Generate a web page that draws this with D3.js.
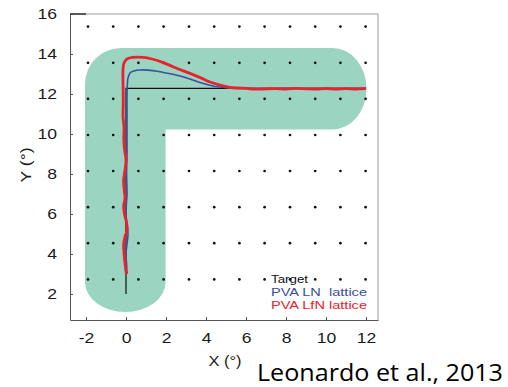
<!DOCTYPE html>
<html><head><meta charset="utf-8">
<script src="https://cdn.jsdelivr.net/npm/d3@7"></script>
<style>html,body{margin:0;padding:0;background:#fff;} text{font-family:"Liberation Sans",Arial,sans-serif;}</style>
</head><body>
<svg id="c" width="508" height="387"></svg>
<script>
const xTicks = [-2, 0, 2, 4, 6, 8, 10, 12];
const yTicks = [2, 4, 6, 8, 10, 12, 14, 16];
const dotX = [-1.9, -0.64, 0.62, 1.88, 3.15, 4.41, 5.67, 6.93, 8.2, 9.46, 10.72, 11.98];
const dotY = [2.73, 4.54, 6.34, 8.15, 9.95, 11.76, 13.56, 15.37];
const targetX = [0, 0, 12];
const targetY = [2, 12.28, 12.28];
const lnX = [0.05,0.03,0,0.05,0.1,0.05,0,0.02,0.05,0.03,0.05,0.05,0.05,0.05,0.07,0.1,0.2,0.4,0.7,1.35,2,2.7,3.2,3.7,4.35,4.7,5.2,6,7,8,9,10,11,12];
const lnY = [3.0,3.5,4,4.5,5,5.5,6,6.5,7,8,9,10,11,12,12.5,12.8,13.05,13.15,13.2,13.17,13.05,12.9,12.75,12.57,12.4,12.35,12.29,12.28,12.27,12.28,12.27,12.28,12.27,12.28];
const lfnX = [0.03,0,-0.05,-0.1,-0.12,-0.05,0.06,0.03,-0.05,-0.12,-0.05,-0.09,-0.12,-0.05,0,-0.07,-0.11,-0.1,-0.15,-0.14,-0.14,-0.15,-0.15,-0.1,0.05,0.35,0.85,1.3,1.87,2.5,3.2,3.8,4.2,4.7,5.2,5.6,6,6.5,7,7.5,8,8.5,9,9.5,10,10.5,11,11.5,12];
const lfnY = [3.0,3.12,3.53,4.05,4.45,4.87,5.2,5.55,5.87,6.37,6.8,7.2,7.7,8.2,8.7,9.2,9.7,10.3,10.9,11.4,12.0,12.6,13.2,13.55,13.75,13.83,13.83,13.75,13.57,13.3,13.03,12.78,12.6,12.45,12.33,12.3,12.28,12.24,12.26,12.27,12.25,12.28,12.26,12.25,12.27,12.25,12.27,12.25,12.27];
const legendLabels = ["Target", "PVA LN  lattice", "PVA LfN lattice"];
const legendColors = ["#111", "#3b4f9c", "#e8232e"];
// corridor (green band) geometry in data units
const bandXLeft = -2.05, bandXRight = 1.98, bandYTop = 14.3, bandYBottom = 10.23, bandEndX = 12.03, bandEndY = 1.1;

const svg = d3.select("#c");
const x = d3.scaleLinear().domain([-2.8, 12.6]).range([70, 378]);
const y = d3.scaleLinear().domain([0.7, 16]).range([320, 14]);
const stretch = 1.17;

// green corridor
const kx = x(1) - x(0), ky = y(0) - y(1);
const cr = 1.8, capR = 1.7, capB = 1.5;
const hy = (bandYTop - bandYBottom) / 2, vx = (bandXRight - bandXLeft) / 2;
const shape = [
  "M", x(bandXLeft), y(bandEndY + capB),
  "L", x(bandXLeft), y(bandYTop - cr),
  "A", cr*kx, cr*ky, 0, 0, 1, x(bandXLeft + cr), y(bandYTop),
  "L", x(bandEndX - capR), y(bandYTop),
  "A", capR*kx, hy*ky, 0, 0, 1, x(bandEndX - capR), y(bandYBottom),
  "L", x(bandXRight), y(bandYBottom),
  "L", x(bandXRight), y(bandEndY + capB),
  "A", vx*kx, capB*ky, 0, 0, 1, x(bandXLeft), y(bandEndY + capB),
  "Z"].join(" ");
svg.append("path").attr("d", shape).attr("fill", "#9bd5c2");

// dots
const dots = [];
dotY.forEach(dy => dotX.forEach(dx => dots.push([dx, dy])));
svg.append("g").selectAll("circle").data(dots).join("circle")
  .attr("cx", d => x(d[0])).attr("cy", d => y(d[1])).attr("r", 1.35).attr("fill", "#111");

// axes
const ax = svg.append("g").attr("transform", `translate(0,${y(0.7)})`)
  .call(d3.axisBottom(x).tickValues(xTicks).tickFormat(d => String(d)).tickSizeInner(-3).tickSizeOuter(0).tickPadding(12));
const ay = svg.append("g").attr("transform", `translate(${x(-2.8)},0)`)
  .call(d3.axisLeft(y).tickValues(yTicks).tickFormat(d => String(d)).tickSizeInner(-3).tickSizeOuter(0).tickPadding(13));
[ax, ay].forEach(g => {
  g.select(".domain").attr("stroke", "#555");
  g.selectAll(".tick line").attr("stroke", "#555");
  g.selectAll("text").attr("font-size", 15).attr("fill", "#1a1a1a")
    .style("font-family", "'Liberation Sans', Arial, sans-serif")
    .each(function() {
      const w = this.getComputedTextLength();
      d3.select(this).attr("textLength", w * stretch).attr("lengthAdjust", "spacingAndGlyphs");
    });
});
// top & right frame
svg.append("path").attr("d", `M${x(-2.8)},${y(16)}H${x(12.6)}V${y(0.7)}`)
  .attr("fill", "none").attr("stroke", "#999").attr("stroke-width", 1);
svg.append("path").attr("d", `M${x(-2.8)},${y(16)}H${x(-2)}`).attr("stroke", "#333").attr("stroke-width", 1.5);

// lines
const line = d3.line().x(d => x(d[0])).y(d => y(d[1]));
svg.append("path").datum(targetX.map((v, i) => [v, targetY[i]])).attr("d", line)
  .attr("fill", "none").attr("stroke", "#111").attr("stroke-width", 1.2);
svg.append("path").datum(lnX.map((v, i) => [v, lnY[i]])).attr("d", line.curve(d3.curveCatmullRom))
  .attr("fill", "none").attr("stroke", legendColors[1]).attr("stroke-width", 1.6);
svg.append("path").datum(lfnX.map((v, i) => [v, lfnY[i]])).attr("d", line.curve(d3.curveCatmullRom))
  .attr("fill", "none").attr("stroke", legendColors[2]).attr("stroke-width", 2.8);

// legend
const legLen = [37, 96, 96];
svg.append("g").selectAll("text").data(legendLabels).join("text")
  .attr("x", 271).attr("y", (d, i) => 282.5 + i * 13.3)
  .attr("font-size", 11.5).attr("fill", (d, i) => legendColors[i])
  .attr("textLength", (d, i) => legLen[i]).attr("lengthAdjust", "spacingAndGlyphs")
  .style("white-space", "pre").text(d => d);

// axis titles
svg.append("text").attr("x", 225).attr("y", 366).attr("text-anchor", "middle")
  .attr("font-size", 15).attr("fill", "#1a1a1a").attr("textLength", 33).attr("lengthAdjust", "spacingAndGlyphs").text("X (°)");
svg.append("text").attr("transform", "translate(31,165) rotate(-90)").attr("text-anchor", "middle")
  .attr("font-size", 15).attr("fill", "#1a1a1a").attr("textLength", 35).attr("lengthAdjust", "spacingAndGlyphs").text("Y (°)");

// caption
svg.append("text").attr("x", 257).attr("y", 381).attr("font-size", 24).attr("fill", "#000")
  .attr("textLength", 246).attr("lengthAdjust", "spacingAndGlyphs")
  .style("font-family", "'Open Sans', 'Liberation Sans', sans-serif").text("Leonardo et al., 2013");
</script>
</body></html>
